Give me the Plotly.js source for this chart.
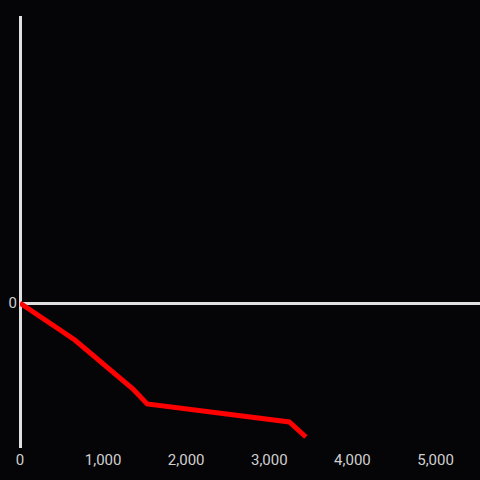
<!DOCTYPE html>
<html>
<head>
<meta charset="utf-8">
<script src="https://cdn.plot.ly/plotly-3.0.1.min.js"></script>
<style>html,body{margin:0;padding:0;background:#050407;}#chart{width:480px;height:480px;}</style>
</head>
<body>
<div id="chart"></div>
<script>
var xValues = [0, 660, 1360, 1530, 3240, 3440];
var yValues = [0, -37, -86, -101, -119, -134];
var xTicks = [0, 1000, 2000, 3000, 4000, 5000];
var yTicks = [0];

var tickFont = {family: 'Roboto, sans-serif', size: 15, color: '#d0d0d0'};

Plotly.newPlot('chart', [{
  x: xValues, y: yValues, type: 'scatter', mode: 'lines',
  line: {color: '#ff0000', width: 5}
}], {
  width: 480, height: 480,
  paper_bgcolor: '#050407', plot_bgcolor: '#050407',
  margin: {l: 20, r: 0, t: 16, b: 32},
  showlegend: false,
  font: tickFont,
  xaxis: {range: [0, 5535], tickvals: xTicks, tickformat: ',d', showgrid: false,
    zeroline: true, zerolinecolor: '#e0e0e0', zerolinewidth: 3, showline: false, ticks: '',
    tickfont: tickFont, ticklabelstandoff: 1},
  yaxis: {range: [-145, 287], tickvals: yTicks, showgrid: false,
    zeroline: true, zerolinecolor: '#e0e0e0', zerolinewidth: 3, showline: false, ticks: '',
    tickfont: tickFont, ticklabelstandoff: 2}
}, {staticPlot: true});
</script>
</body>
</html>
